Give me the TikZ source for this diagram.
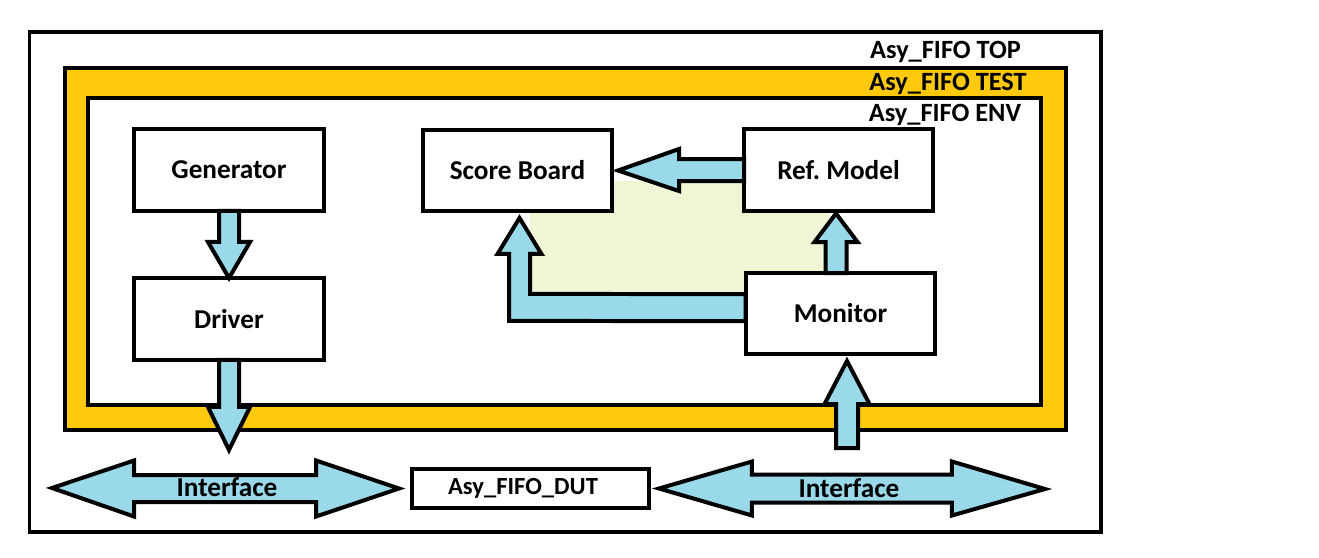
\documentclass[tikz,border=0pt]{standalone}
\usepackage{fontspec}
\setmainfont{Carlito}
\usetikzlibrary{calc,backgrounds}
\definecolor{cYel}{HTML}{FFC90E}
\definecolor{cBlu}{HTML}{99D9EA}
\definecolor{cGrn}{HTML}{EFF6D5}
\definecolor{cInk}{HTML}{000000}
\tikzset{
  frame/.style  = {draw=cInk, line width=0.08cm},
  blk/.style    = {frame, fill=white, minimum width=3.8cm, minimum height=1.64cm,
                   inner sep=0pt, outer sep=0pt, font=\fontsize{15.5}{18}\selectfont\bfseries},
  lbl/.style    = {inner sep=0pt, font=\fontsize{15}{18}\selectfont\bfseries},
  barrow/.style = {frame, fill=cBlu, line join=miter},
}

\begin{document}
\begin{tikzpicture}[x=0.02cm, y=-0.02cm]
  \useasboundingbox (0,0) rectangle (1319,558);
  % blocks
  \node[blk] (gen) at (229,170) {Generator};
  \node[blk] (drv) at (229,319) {Driver};
  \node[blk, minimum width=3.78cm, minimum height=1.62cm] (sb) at (517.5,170.5) {Score Board};
  \node[blk, minimum width=3.78cm] (ref) at (838.5,170) {Ref.\ Model};
  \node[blk, minimum height=1.62cm] (mon) at (840.5,313.5) {Monitor};
  \node[blk, minimum width=4.74cm, minimum height=0.78cm,
        font=\fontsize{14}{16}\selectfont\bfseries] (dut) at (530.5,488.5) {\kern-0.3cm Asy\_FIFO\_DUT};
  % frame labels
  \node[lbl, anchor=base] (toplbl) at (945.5,58) {Asy\_FIFO TOP};
  \node[lbl, anchor=base] (testlbl) at (948,90) {Asy\_FIFO TEST};
  \node[lbl, anchor=base] (envlbl) at (945,121) {Asy\_FIFO ENV};
  \begin{scope}[on background layer]
    \draw[frame] (29.5,31.5) rectangle (1100.5,531.5);
    \draw[frame, fill=cYel] (64.5,67.5) rectangle (1065.5,430);
    \draw[frame, fill=white] (88,97.5) rectangle (1040.5,405);
    \fill[cGrn] (530,181) rectangle (830,294);
  \end{scope}
  % block arrows
  \coordinate (drvend) at (229,450);
  \coordinate (monin) at (847,448);
  \coordinate (ifl) at (52,488);
  \coordinate (ifr) at (1045,489);
  \draw[barrow] ($(gen.south)+(-10,0)$) -- ($(gen.south)+(-10,31)$) -- ($(gen.south)+(-21,31)$)
    -- (drv.north) -- ($(gen.south)+(21,31)$) -- ($(gen.south)+(10,31)$) -- ($(gen.south)+(10,0)$) -- cycle;
  \draw[barrow] ($(drv.south)+(-10,0)$) -- ($(drv.south)+(-10,47)$) -- ($(drv.south)+(-21,47)$)
    -- (drvend) -- ($(drv.south)+(21,47)$) -- ($(drv.south)+(10,47)$) -- ($(drv.south)+(10,0)$) -- cycle;
  \draw[barrow] ($(ref.west)+(0,-11)$) -- ($(ref.west)+(-65,-11)$) -- ($(ref.west)+(-65,-21)$)
    -- ($(sb.east)+(6,0)$) -- ($(ref.west)+(-65,21)$) -- ($(ref.west)+(-65,11)$) -- ($(ref.west)+(0,11)$) -- cycle;
  \draw[barrow] ($(mon.north)+(-15,0)$) -- ($(mon.north)+(-15,-31)$) -- ($(mon.north)+(-26,-31)$)
    -- ($(ref.south)+(-2.5,2.5)$) -- ($(mon.north)+(17,-31)$) -- ($(mon.north)+(6,-31)$) -- ($(mon.north)+(6,0)$) -- cycle;
  \draw[barrow] ($(monin)+(-11,0)$) -- ($(monin)+(-11,-44)$) -- ($(monin)+(-22.5,-44)$)
    -- ($(mon.south)+(6.5,7)$) -- ($(monin)+(22.5,-44)$) -- ($(monin)+(11,-44)$) -- ($(monin)+(11,0)$) -- cycle;
  \draw[barrow] ($(mon.west)+(0,-19.5)$) -- ($(sb.south)+(12.5,83)$) -- ($(sb.south)+(12.5,43)$)
    -- ($(sb.south)+(24,43)$) -- ($(sb.south)+(2,7)$) -- ($(sb.south)+(-20,43)$) -- ($(sb.south)+(-8.5,43)$)
    -- ($(sb.south)+(-8.5,110)$) -- ($(mon.west)+(0,7.5)$) -- cycle;
  % interfaces
  \draw[barrow] ($(dut.west)+(-13,0)$) -- ($(dut.west)+(-96,-28)$) -- ($(dut.west)+(-96,-13.5)$)
    -- ($(dut.west)+(-278,-13.5)$) -- ($(dut.west)+(-278,-28)$) -- (ifl) -- ($(dut.west)+(-278,28)$)
    -- ($(dut.west)+(-278,13.5)$) -- ($(dut.west)+(-96,13.5)$) -- ($(dut.west)+(-96,28)$) -- cycle;
  \draw[barrow] ($(dut.east)+(10,0)$) -- ($(dut.east)+(103,-27)$) -- ($(dut.east)+(103,-14)$)
    -- ($(dut.east)+(303,-14)$) -- ($(dut.east)+(303,-27)$) -- (ifr) -- ($(dut.east)+(303,27)$)
    -- ($(dut.east)+(303,14)$) -- ($(dut.east)+(103,14)$) -- ($(dut.east)+(103,27)$) -- cycle;
  \node[lbl, font=\fontsize{15.5}{18}\selectfont\bfseries] (ifltxt) at ($(dut.west)+(-185,-1)$) {Interface};
  \node[lbl, font=\fontsize{15.5}{18}\selectfont\bfseries] (ifrtxt) at ($(dut.east)+(200,0)$) {Interface};
\end{tikzpicture}
\end{document}
